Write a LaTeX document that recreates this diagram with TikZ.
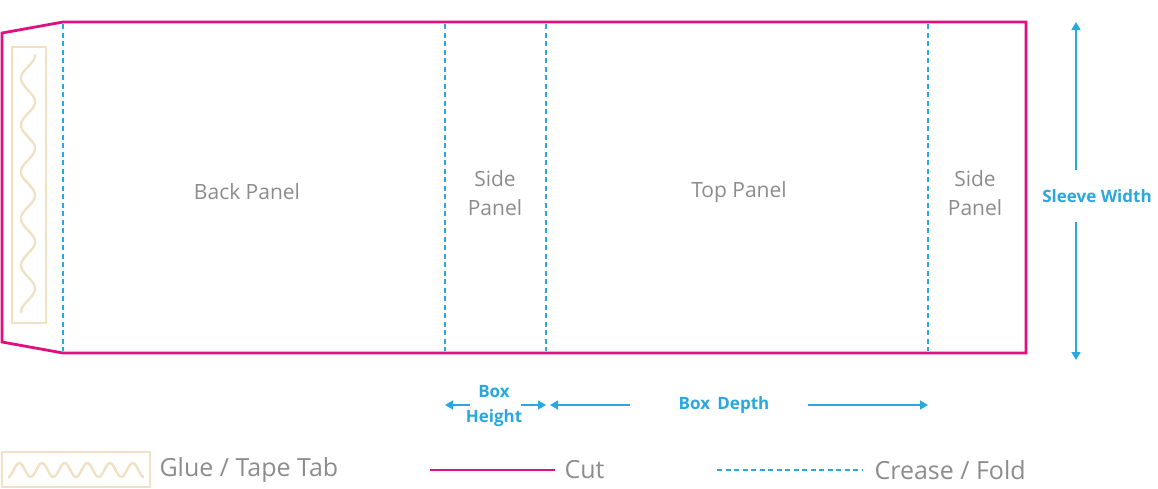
\documentclass[tikz,border=0pt]{standalone}
\usepackage{fontspec}
\setmainfont{Open Sans}
\usetikzlibrary{arrows.meta}
\definecolor{cut}{HTML}{E0117F}
\definecolor{fold}{HTML}{29A8DF}
\definecolor{glue}{HTML}{F0E0C4}
\definecolor{lbl}{HTML}{8C8C8C}
\begin{document}
\begin{tikzpicture}[x=1pt,y=-1pt,
  cutline/.style={cut,line width=2.8pt},
  foldline/.style={fold,line width=1.6pt,dash pattern=on 5pt off 3.5pt},
  gluestyle/.style={glue,line width=2.4pt},
  panel/.style={text=lbl,font=\fontsize{21}{29}\selectfont,align=center},
  dim/.style={text=fold,font=\bfseries\fontsize{17}{22}\selectfont,align=center},
  dimarrow/.style={fold,line width=1.5pt,-{Triangle[length=8pt,width=9pt]}},
  legend/.style={text=lbl,font=\fontsize{25}{30}\selectfont,anchor=west}]
\useasboundingbox (0,0) rectangle (1158,488);
% cut outline
\draw[cutline,line join=miter] (63,22) -- (1026,22) -- (1026,353) -- (63,353) -- (2,342) -- (2,33) -- cycle;
% folds
\foreach \xx in {63,445,546,928} \draw[foldline] (\xx,24) -- (\xx,351);
% glue tab
\draw[gluestyle] (12,47) rectangle (46,323);
\draw[gluestyle,line cap=round] plot[domain=55:312,samples=150,smooth] ({28+7*cos((\x-55)/257*5.5*360)},\x);
% labels
\node[panel] (bp) at (247,192) {Back Panel};
\node[panel] (sp1) at (495,193) {Side\\Panel};
\node[panel] (tp) at (739,192) {Top Panel};
\node[panel] (sp2) at (975,193) {Side\\Panel};
% sleeve width
\node[dim] (sw) at (1097,196) {Sleeve Width};
\coordinate (swt) at (1076,22); \coordinate (swb) at (1076,360);
\draw[dimarrow] (1076,170) -- (swt);
\draw[dimarrow] (1076,222) -- (swb);
% box height
\node[dim,font=\bfseries\fontsize{17}{25}\selectfont] (bh) at (494,406) {Box\\Height};
\coordinate (bhl) at (445,405); \coordinate (bhr) at (546,405);
\draw[dimarrow] (470,405) -- (bhl);
\draw[dimarrow] (521,405) -- (bhr);
% box depth
\node[dim] (bd) at (724,405) {Box\, Depth};
\coordinate (bdl) at (550,405); \coordinate (bdr) at (928,405);
\draw[dimarrow] (630,405) -- (bdl);
\draw[dimarrow] (808,405) -- (bdr);
% legend
\draw[gluestyle] (2,452) rectangle (150,487);
\draw[gluestyle] plot[domain=8:144,samples=120,smooth] (\x,{470+7*cos((\x-8)/136*6*360)});
\node[legend] (lg1) at (156,470) {Glue / Tape Tab};
\coordinate (c1) at (430,470); \coordinate (c2) at (555,470);
\draw[cutline] (c1) -- (c2);
\node[legend] (lg2) at (561,470) {Cut};
\coordinate (f1) at (717,470); \coordinate (f2) at (862,470);
\draw[foldline,line width=2.4pt] (f1) -- (f2);
\node[legend] (lg3) at (871,470) {Crease / Fold};
\end{tikzpicture}
\end{document}
